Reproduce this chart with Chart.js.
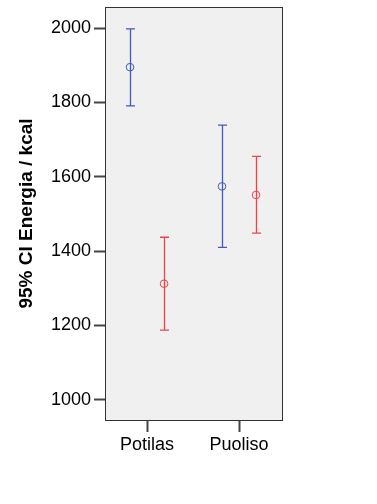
<!DOCTYPE html>
<html>
<head>
<meta charset="utf-8">
<script src="https://cdn.jsdelivr.net/npm/chart.js@4/dist/chart.umd.min.js"></script>
<style>
  html, body { margin: 0; padding: 0; background: #fff; }
  #wrap { width: 377px; height: 504px; }
</style>
</head>
<body>
<div id="wrap"><canvas id="mycanvas"></canvas></div>
<script>
var categories = ["Potilas", "Puoliso"];
var yTicks = [1000, 1200, 1400, 1600, 1800, 2000];

// blue group
var blueMean = [1895, 1574];
var blueLow = [1791, 1410];
var blueHigh = [1998, 1739];

// red group
var redMean = [1312, 1551];
var redLow = [1187, 1448];
var redHigh = [1437, 1655];

var groupOffset = 0.185;
var blue = "#3f5bbf";
var red = "#f0424a";

function points(means, shift) {
	var out = [];
	for (var i in means) {
		out.push({ x: Number(i) + shift, y: means[i] });
	}
	return out;
}

var errorBars = {
	id: "errorBars",
	beforeDraw: function(chart) {
		var a = chart.chartArea;
		var ctx = chart.ctx;
		ctx.save();
		ctx.fillStyle = "#f0f0f0";
		ctx.fillRect(a.left, a.top, a.right - a.left, a.bottom - a.top);
		ctx.restore();
	},
	afterDatasetsDraw: function(chart) {
		var xs = chart.scales.x, ys = chart.scales.y;
		var ctx = chart.ctx;
		var groups = [
			{ low: blueLow, high: blueHigh, shift: -groupOffset, color: blue },
			{ low: redLow, high: redHigh, shift: groupOffset, color: red }
		];
		ctx.save();
		ctx.lineWidth = 1.3;
		groups.forEach(function(g) {
			ctx.strokeStyle = g.color;
			for (var i = 0; i < categories.length; i++) {
				var px = Math.round(xs.getPixelForValue(i + g.shift)) + 0.5;
				var top = ys.getPixelForValue(g.high[i]);
				var bot = ys.getPixelForValue(g.low[i]);
				ctx.beginPath();
				ctx.moveTo(px, top); ctx.lineTo(px, bot);
				ctx.moveTo(px - 4.5, top); ctx.lineTo(px + 4.5, top);
				ctx.moveTo(px - 4.5, bot); ctx.lineTo(px + 4.5, bot);
				ctx.stroke();
			}
		});
		// plot frame
		var a = chart.chartArea;
		ctx.strokeStyle = "#333";
		ctx.lineWidth = 1;
		ctx.strokeRect(Math.round(a.left) + 0.5, Math.round(a.top) + 0.5,
			Math.round(a.right - a.left), Math.round(a.bottom - a.top));
		ctx.restore();
	}
};

var ctx = document.getElementById("mycanvas");

var chart = new Chart(ctx, {
	type: "scatter",
	data: {
		datasets: [
			{
				label: "blue",
				data: points(blueMean, -groupOffset),
				pointStyle: "circle",
				pointRadius: 3.8,
				pointBorderWidth: 1,
				borderColor: blue,
				backgroundColor: "transparent"
			},
			{
				label: "red",
				data: points(redMean, groupOffset),
				pointStyle: "circle",
				pointRadius: 3.8,
				pointBorderWidth: 1,
				borderColor: red,
				backgroundColor: "transparent"
			}
		]
	},
	options: {
		responsive: true,
		maintainAspectRatio: false,
		animation: false,
		layout: { padding: { top: 7, right: 95, left: 0, bottom: 0 } },
		plugins: { legend: { display: false }, tooltip: { enabled: false } },
		scales: {
			x: {
				type: "linear",
				min: -0.457,
				max: 1.467,
				afterBuildTicks: function(scale) {
					scale.ticks = categories.map(function(c, i) { return { value: i }; });
				},
				afterFit: function(scale) {
					scale.height = 84;
					scale.paddingLeft = 0;
					scale.paddingRight = 0;
				},
				ticks: {
					callback: function(v) { return categories[v]; },
					color: "#000",
					font: { family: "Liberation Sans, Arial", size: 18 },
					padding: 2,
					maxRotation: 0
				},
				grid: { drawOnChartArea: false, drawTicks: true, tickLength: 12, tickColor: "#444", tickWidth: 2 },
				border: { display: false }
			},
			y: {
				min: 945,
				max: 2057,
				afterBuildTicks: function(scale) {
					scale.ticks = yTicks.map(function(v) { return { value: v }; });
				},
				afterFit: function(scale) {
					scale.width = 105;
					scale.paddingTop = 0;
					scale.paddingBottom = 0;
				},
				ticks: {
					callback: function(v) { return String(v); },
					color: "#000",
					font: { family: "Liberation Sans, Arial", size: 18 },
					padding: 3
				},
				grid: { drawOnChartArea: false, drawTicks: true, tickLength: 11, tickColor: "#444", tickWidth: 2 },
				border: { display: false },
				title: {
					display: true,
					text: "95% CI Energia / kcal",
					color: "#000",
					font: { family: "Liberation Sans, Arial", size: 19, weight: "bold" },
					padding: { top: 15, bottom: 0 }
				}
			}
		}
	},
	plugins: [errorBars]
});
</script>
</body>
</html>
